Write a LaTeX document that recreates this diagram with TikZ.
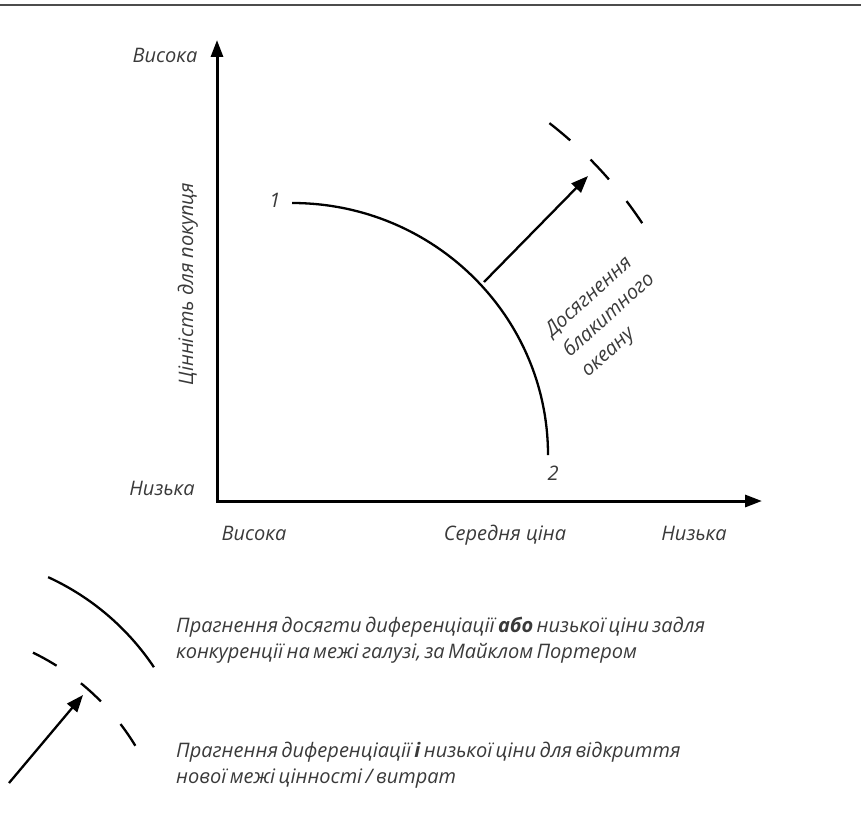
\documentclass[tikz,border=0pt]{standalone}
\usepackage{fontspec}
\setmainfont{Open Sans}
\usetikzlibrary{arrows.meta}
\definecolor{txt}{HTML}{3A3A3A}
\tikzset{
  lbl/.style={font=\itshape\fontsize{20}{26}\selectfont, text=txt, inner sep=0pt},
  legtxt/.style={lbl, execute at begin node={\spaceskip=0.17em\relax}},
  axisline/.style={line width=3pt, {Triangle[length=17pt,width=12pt]}-{Triangle[length=17pt,width=12pt]}},
  curveline/.style={line width=2.3pt},
  dashline/.style={line width=2.3pt, dash pattern=on 27pt off 28pt},
  legdash/.style={line width=2.3pt, dash pattern=on 27pt off 30pt},
  movearrow/.style={line width=2.3pt, -{Triangle[length=17pt,width=13pt]}},
}
\begin{document}
\begin{tikzpicture}[x=1pt,y=1pt]
\useasboundingbox (0,0) rectangle (861,-816);
% top rule
\draw[line width=2.5pt, gray!60!black] (0,-5) -- (861,-5);
% axes
\coordinate (ytip) at (217,-40);
\coordinate (origin) at (217,-501);
\coordinate (xtip) at (762,-501);
\draw[axisline] (ytip) -- (origin) -- (xtip);
% axis labels
\node[lbl, anchor=base] (yhigh) at (165,-63) {Висока};
\node[lbl, anchor=base] (ylow) at (162,-495) {Низька};
\node[lbl, anchor=base, rotate=90] (ylabel) at (193,-284) {Цінність для покупця};
\node[lbl, anchor=base] (xhigh) at (254,-540) {Висока};
\node[lbl, anchor=base] (xmid) at (505,-540) {Середня ціна};
\node[lbl, anchor=base] (xlow) at (694,-540) {Низька};
% value curve
\coordinate (C) at (292,-455);
\draw[curveline] (292,-203) coordinate (p1) arc[start angle=90, end angle=0, x radius=256, y radius=252] coordinate (p2);
\node[lbl, anchor=base] (n1) at (275,-207) {1};
\node[lbl, anchor=base] (n2) at (553,-480) {2};
% blue ocean arrow
\coordinate (bs) at (484,-282);
\coordinate (bt) at (588,-176);
\draw[movearrow] (bs) -- (bt);
% dashed new frontier
\draw[dashline] (C) ++(52.2:420) arc[start angle=52.2, end angle=33.3, radius=420];
\node[lbl, font=\itshape\fontsize{20}{27}\selectfont, anchor=base west, rotate=42, align=left] (blue) at (588,-378) {Досягнення\\блакитного\\океану};
% legend
\coordinate (L1) at (-58,-809);
\draw[curveline] (L1) ++(65.4:255) arc[start angle=65.4, end angle=33.8, radius=255];
\coordinate (L2) at (-74,-873);
\draw[legdash] (L2) ++(64.1:245) arc[start angle=64.1, end angle=31.3, radius=245];
\coordinate (la) at (9,-783);
\coordinate (lt) at (83,-695);
\draw[movearrow] (la) -- (lt);
\node[legtxt, anchor=base west, align=left] (leg1) at (176,-658) {Прагнення досягти диференціації \textbf{або} низької ціни задля\\конкуренції на межі галузі, за Майклом Портером};
\node[legtxt, anchor=base west, align=left] (leg2) at (176,-783) {Прагнення диференціації \textbf{і} низької ціни для відкриття\\нової межі цінності / витрат};
\end{tikzpicture}
\end{document}
